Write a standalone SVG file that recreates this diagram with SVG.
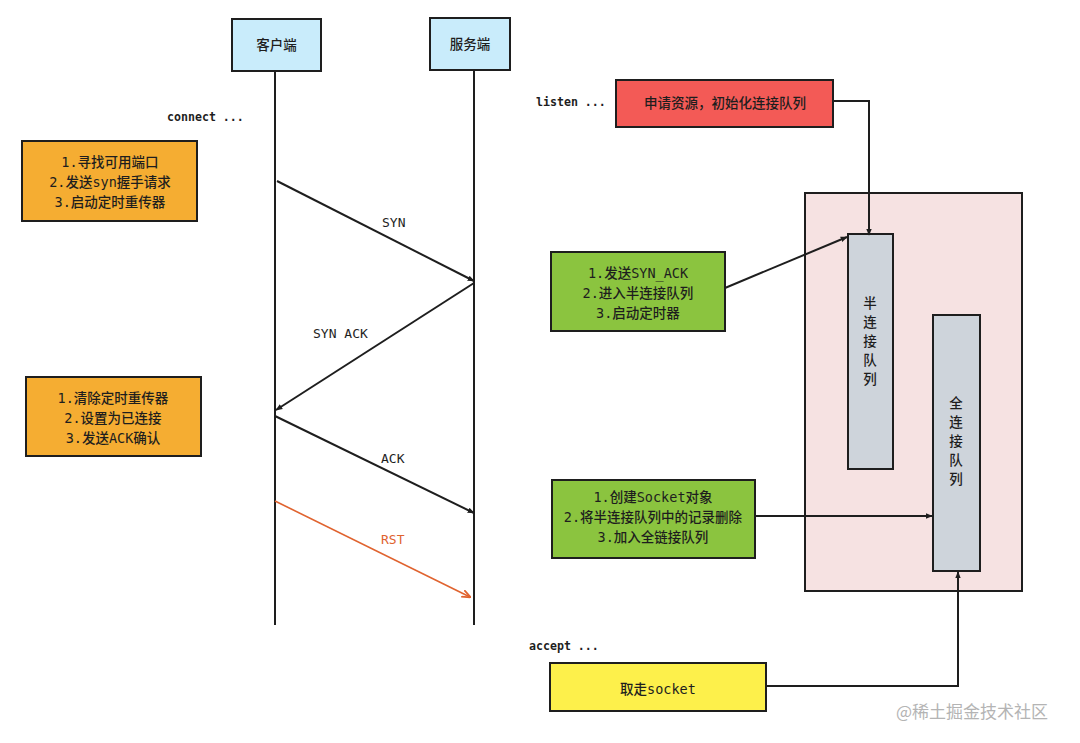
<svg xmlns="http://www.w3.org/2000/svg" width="1080" height="743" viewBox="0 0 1080 743">
<defs>
<marker id="ah" viewBox="0 0 10 10" refX="9" refY="5" markerWidth="7" markerHeight="7" orient="auto-start-reverse" markerUnits="userSpaceOnUse">
<path d="M0,1 L10,5 L0,9 Z" fill="#1e1e1e"/>
</marker>
<marker id="ahr" viewBox="0 0 10 10" refX="9" refY="5" markerWidth="9" markerHeight="9" orient="auto" markerUnits="userSpaceOnUse">
<path d="M0,1 L10,5 L0,9" fill="none" stroke="#e0632f" stroke-width="2"/>
</marker>
<style>
.box{stroke:#1e1e1e;stroke-width:2}
.t{font-family:"DejaVu Sans Mono","Noto Sans CJK SC",monospace;font-size:13.5px;font-weight:500;fill:#1e1e1e;text-anchor:middle}
.lbl{font-family:"DejaVu Sans Mono","Noto Sans CJK SC",monospace;font-size:13px;font-weight:500;fill:#1e1e1e}
.kw{font-family:"DejaVu Sans Mono",monospace;font-size:11.6px;font-weight:bold;fill:#1e1e1e}
.ln{stroke:#1e1e1e;stroke-width:2;fill:none}
</style>
</defs>
<rect width="1080" height="743" fill="#ffffff"/>

<g id="container">
<rect x="805" y="193" width="217" height="398" fill="#f6e2e2" class="box"/>
</g>

<g id="client">
<rect x="232" y="19" width="89" height="52" fill="#c9ecfb" class="box"/>
<text class="t" x="276.5" y="50">客户端</text>
</g>
<g id="server">
<rect x="430" y="18" width="80" height="52" fill="#c9ecfb" class="box"/>
<text class="t" x="470" y="49">服务端</text>
</g>

<g id="lifelines">
<line class="ln" x1="275" y1="71" x2="275" y2="625"/>
<line class="ln" x1="474" y1="70" x2="474" y2="625"/>
</g>

<text class="kw" x="167" y="121">connect ...</text>
<text class="kw" x="536" y="106">listen ...</text>
<text class="kw" x="529" y="650">accept ...</text>

<g id="box-connect">
<rect x="22" y="141" width="175" height="80" fill="#f5ad32" class="box"/>
<text class="t" x="110" y="167">1.寻找可用端口</text>
<text class="t" x="110" y="187">2.发送syn握手请求</text>
<text class="t" x="110" y="207">3.启动定时重传器</text>
</g>

<g id="box-ack">
<rect x="26" y="377" width="175" height="79" fill="#f5ad32" class="box"/>
<text class="t" x="113" y="403">1.清除定时重传器</text>
<text class="t" x="113" y="423">2.设置为已连接</text>
<text class="t" x="113" y="443">3.发送ACK确认</text>
</g>

<g id="box-listen">
<rect x="616" y="80" width="217" height="47" fill="#f35a56" class="box"/>
<text class="t" x="725" y="108">申请资源，初始化连接队列</text>
</g>

<g id="box-synack">
<rect x="551" y="252" width="174" height="79" fill="#8bc43f" class="box"/>
<text class="t" x="638" y="278">1.发送SYN_ACK</text>
<text class="t" x="638" y="298">2.进入半连接队列</text>
<text class="t" x="638" y="318">3.启动定时器</text>
</g>

<g id="box-socket">
<rect x="552" y="480" width="203" height="78" fill="#8bc43f" class="box"/>
<text class="t" x="653" y="502">1.创建Socket对象</text>
<text class="t" x="653" y="522">2.将半连接队列中的记录删除</text>
<text class="t" x="653" y="542">3.加入全链接队列</text>
</g>

<g id="box-accept">
<rect x="550" y="663" width="216" height="48" fill="#fdf04b" class="box"/>
<text class="t" x="658" y="694">取走socket</text>
</g>

<g id="half-queue">
<rect x="848" y="234" width="45" height="235" fill="#ced4db" class="box"/>
<text class="t" x="870" y="308">半</text>
<text class="t" x="870" y="327">连</text>
<text class="t" x="870" y="346">接</text>
<text class="t" x="870" y="365">队</text>
<text class="t" x="870" y="384">列</text>
</g>

<g id="full-queue">
<rect x="933" y="315" width="47" height="256" fill="#ced4db" class="box"/>
<text class="t" x="956" y="408">全</text>
<text class="t" x="956" y="427">连</text>
<text class="t" x="956" y="446">接</text>
<text class="t" x="956" y="465">队</text>
<text class="t" x="956" y="484">列</text>
</g>

<g id="connectors">
<line class="ln" x1="277" y1="181" x2="474" y2="281" marker-end="url(#ah)"/>
<line class="ln" x1="474" y1="283" x2="276" y2="410" marker-end="url(#ah)"/>
<line class="ln" x1="275" y1="416" x2="474" y2="513" marker-end="url(#ah)"/>
<line x1="275" y1="501" x2="470" y2="597" stroke="#e0632f" stroke-width="1.6" marker-end="url(#ahr)"/>
<polyline class="ln" points="833,101 869,101 869,235" marker-end="url(#ah)"/>
<line class="ln" x1="725" y1="288" x2="847" y2="237" marker-end="url(#ah)"/>
<line class="ln" x1="755" y1="516" x2="932" y2="516" marker-end="url(#ah)"/>
<polyline class="ln" points="766,686 958,686 958,572" marker-end="url(#ah)"/>
</g>

<text class="lbl" x="382" y="227">SYN</text>
<text class="lbl" x="313" y="338">SYN ACK</text>
<text class="lbl" x="381" y="463">ACK</text>
<text class="lbl" x="381" y="544" style="fill:#e0632f">RST</text>

<text x="896" y="718" font-family="'Noto Sans CJK SC',sans-serif" font-size="17" fill="#b4b4b4">@稀土掘金技术社区</text>
</svg>
